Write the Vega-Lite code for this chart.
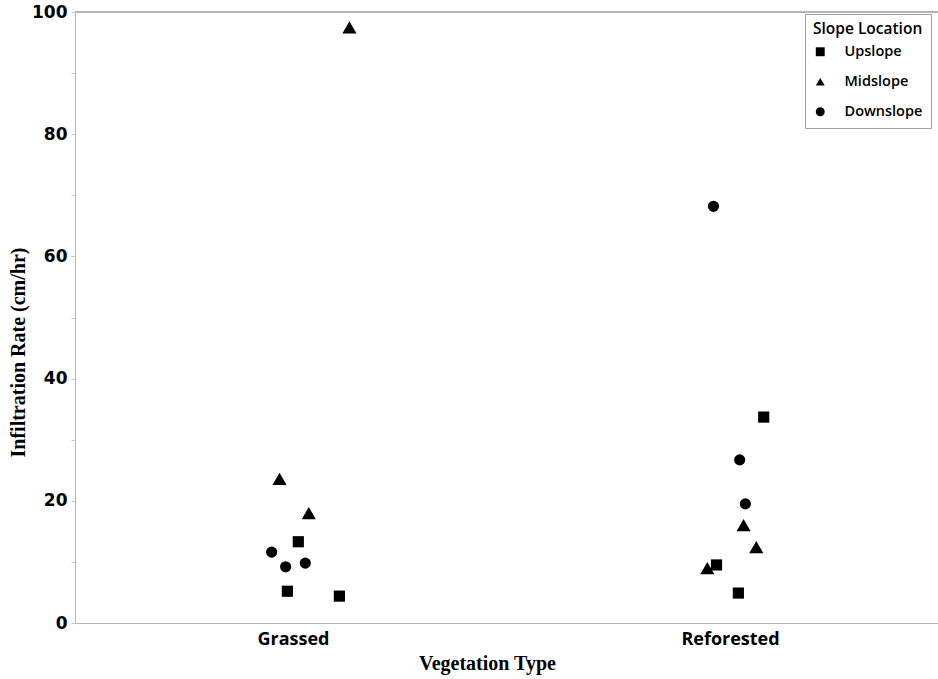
{
  "$schema": "https://vega.github.io/schema/vega-lite/v6.json",
  "width": 863,
  "height": 611,
  "autosize": "none",
  "padding": {"left": 75, "top": 12, "right": 0, "bottom": 56},
  "background": "white",
  "data": {
    "values": [
      {"veg": "Grassed", "slope": "Midslope", "rate": 97.5, "jitter": 0.128},
      {"veg": "Grassed", "slope": "Midslope", "rate": 23.6, "jitter": -0.032},
      {"veg": "Grassed", "slope": "Midslope", "rate": 18.0, "jitter": 0.035},
      {"veg": "Grassed", "slope": "Upslope", "rate": 13.3, "jitter": 0.011},
      {"veg": "Grassed", "slope": "Downslope", "rate": 11.6, "jitter": -0.05},
      {"veg": "Grassed", "slope": "Downslope", "rate": 9.2, "jitter": -0.018},
      {"veg": "Grassed", "slope": "Downslope", "rate": 9.8, "jitter": 0.027},
      {"veg": "Grassed", "slope": "Upslope", "rate": 5.2, "jitter": -0.014},
      {"veg": "Grassed", "slope": "Upslope", "rate": 4.4, "jitter": 0.105},
      {"veg": "Reforested", "slope": "Downslope", "rate": 68.2, "jitter": -0.039},
      {"veg": "Reforested", "slope": "Upslope", "rate": 33.7, "jitter": 0.076},
      {"veg": "Reforested", "slope": "Downslope", "rate": 26.7, "jitter": 0.021},
      {"veg": "Reforested", "slope": "Downslope", "rate": 19.5, "jitter": 0.034},
      {"veg": "Reforested", "slope": "Midslope", "rate": 16.0, "jitter": 0.03},
      {"veg": "Reforested", "slope": "Midslope", "rate": 12.4, "jitter": 0.059},
      {"veg": "Reforested", "slope": "Midslope", "rate": 9.0, "jitter": -0.053},
      {"veg": "Reforested", "slope": "Upslope", "rate": 9.5, "jitter": -0.032},
      {"veg": "Reforested", "slope": "Upslope", "rate": 4.9, "jitter": 0.018}
    ]
  },
  "encoding": {
    "y": {
      "field": "rate",
      "type": "quantitative",
      "scale": {"domain": [0, 100], "nice": false},
      "axis": {
        "title": "Infiltration Rate (cm/hr)",
        "values": [0, 10, 20, 30, 40, 50, 60, 70, 80, 90, 100],
        "labelExpr": "datum.value % 20 === 0 ? datum.label : ''",
        "grid": false,
        "labelFont": "DejaVu Sans",
        "labelFontWeight": "bold",
        "labelFontSize": 17,
        "labelColor": "black",
        "labelPadding": 4,
        "tickSize": 4,
        "tickColor": "#c8c8c8",
        "domainColor": "#b4b4b4",
        "titleFont": "Liberation Serif",
        "titleFontWeight": "bold",
        "titleFontSize": 20,
        "titleColor": "black",
        "titlePadding": 3,
        "titleY": 340
      }
    },
    "x": {
      "field": "veg",
      "type": "nominal",
      "scale": {"paddingInner": 0, "paddingOuter": 0, "range": [0, 874]},
      "axis": {
        "title": "Vegetation Type",
        "labelAngle": 0,
        "labelFont": "Open Sans",
        "labelFontWeight": "bold",
        "labelFontSize": 18,
        "labelColor": "black",
        "labelPadding": 7,
        "ticks": false,
        "domainColor": "#b4b4b4",
        "titleFont": "Liberation Serif",
        "titleFontWeight": "bold",
        "titleFontSize": 20,
        "titleColor": "black",
        "titlePadding": 5,
        "titleX": 412
      }
    },
    "xOffset": {
      "field": "jitter",
      "type": "quantitative",
      "scale": {"domain": [-0.5, 0.5]}
    },
    "shape": {
      "field": "slope",
      "type": "nominal",
      "scale": {"domain": ["Upslope", "Midslope", "Downslope"], "range": ["square", "triangle-up", "circle"]},
      "legend": {
        "title": "Slope Location",
        "orient": "none",
        "legendX": 730,
        "legendY": 2,
        "padding": 8,
        "strokeColor": "#a0a0a0",
        "fillColor": "white",
        "titleFont": "Open Sans",
        "titleFontWeight": 600,
        "titleFontSize": 15.5,
        "titleColor": "black",
        "labelFont": "Open Sans",
        "labelFontWeight": 600,
        "labelFontSize": 14.5,
        "labelColor": "black",
        "labelOffset": 17,
        "symbolSize": 80,
        "symbolFillColor": "black",
        "symbolStrokeColor": "black",
        "rowPadding": 14,
        "titlePadding": 7
      }
    }
  },
  "layer": [
    {
      "mark": {"type": "rule", "color": "#b4b4b4", "strokeWidth": 1},
      "encoding": {"y": {"datum": 100}, "x": null, "xOffset": null, "shape": null}
    },
    {
      "transform": [{"filter": "datum.slope !== 'Midslope'"}],
      "mark": {"type": "point", "filled": true, "opacity": 1, "color": "black", "size": 125}
    },
    {
      "transform": [{"filter": "datum.slope === 'Midslope'"}],
      "mark": {"type": "point", "filled": true, "opacity": 1, "color": "black", "size": 200}
    }
  ],
  "config": {
    "view": {"stroke": null}
  }
}
